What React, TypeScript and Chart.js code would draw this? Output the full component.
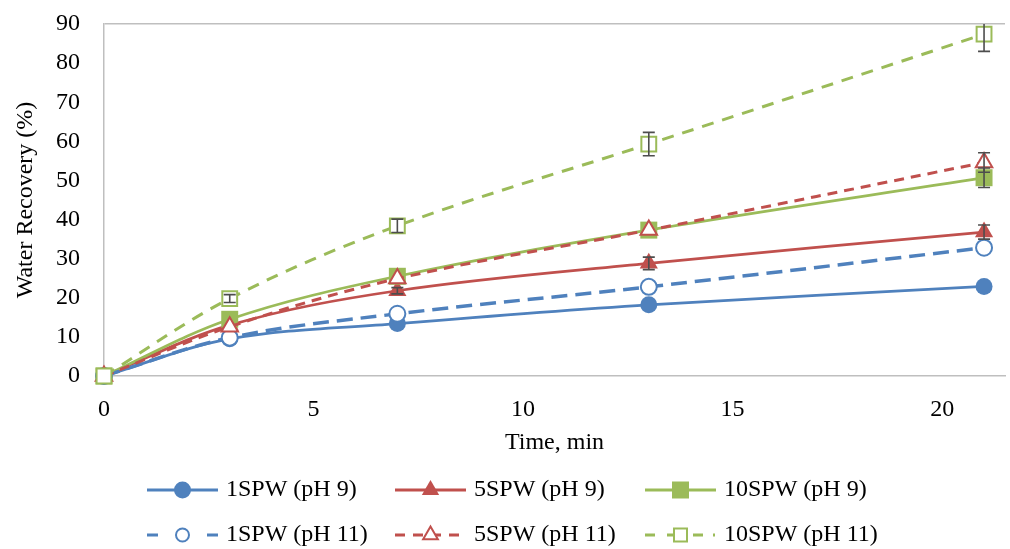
import React, { useEffect, useRef } from 'react';
import { Chart, registerables } from 'chart.js';

Chart.register(...registerables);

// ---- data ----
const timeMin = [0, 3, 7, 13, 21];

const spw1pH9 = [0, 9.5, 13.4, 18.2, 22.9];
const spw5pH9 = [0, 13.0, 21.8, 28.8, 36.8];
const spw10pH9 = [0, 14.5, 25.5, 37.3, 50.7];
const spw1pH11 = [0, 9.8, 15.9, 22.8, 32.8];
const spw5pH11 = [0, 12.6, 24.9, 37.3, 54.6];
const spw10pH11 = [0, 19.8, 38.4, 59.3, 87.4];

const spw1pH9Err = [0, 0, 0, 0, 0];
const spw5pH9Err = [0, 0, 0.8, 1.6, 1.8];
const spw10pH9Err = [0, 0, 0, 0, 2.5];
const spw1pH11Err = [0, 0, 0, 0, 0];
const spw5pH11Err = [0, 0, 0, 0, 2.5];
const spw10pH11Err = [0, 1.0, 1.7, 3.0, 4.4];

const seriesNames = [
  '1SPW (pH 9)',
  '5SPW (pH 9)',
  '10SPW (pH 9)',
  '1SPW (pH 11)',
  '5SPW (pH 11)',
  '10SPW (pH 11)',
];

const xTickLabels = ['0', '5', '10', '15', '20'];
const yTickLabels = ['0', '10', '20', '30', '40', '50', '60', '70', '80', '90'];
const xTitle = 'Time, min';
const yTitle = 'Water Recovery (%)';

// ---- styles ----
const FONT = '"Liberation Serif", "Times New Roman", serif';
const BLUE = '#4f81bd';
const RED = '#c0504d';
const GREEN = '#9bbb59';
const AXIS = '#bfbfbf';
const ERR = '#4d4d4d';

const legendLineStart = [147, 395, 645];
const legendLineLen = 71;
const legendTextOffset = 79;
const legendRowY = [490, 535];

type Marker = 'circle' | 'triangle' | 'rect';

function drawMarker(
  ctx: CanvasRenderingContext2D,
  kind: Marker,
  x: number,
  y: number,
  r: number,
  color: string,
  filled: boolean
) {
  ctx.save();
  ctx.setLineDash([]);
  ctx.beginPath();
  if (kind === 'circle') {
    ctx.arc(x, y, r, 0, Math.PI * 2);
  } else if (kind === 'triangle') {
    const w = r * Math.sqrt(3) / 2;
    ctx.moveTo(x, y - r);
    ctx.lineTo(x + w, y + r / 2);
    ctx.lineTo(x - w, y + r / 2);
    ctx.closePath();
  } else {
    ctx.rect(x - r, y - r, 2 * r, 2 * r);
  }
  ctx.fillStyle = filled ? color : '#ffffff';
  ctx.fill();
  if (!filled) {
    ctx.lineWidth = 2;
    ctx.strokeStyle = color;
    ctx.stroke();
  }
  ctx.restore();
}

export default function App() {
  const ref = useRef<HTMLCanvasElement>(null);

  useEffect(() => {
    if (!ref.current) return;

    const mk = (
      idx: number,
      values: number[],
      errors: number[],
      color: string,
      style: Marker,
      filled: boolean,
      radius: number,
      dash: number[],
      width: number
    ) => ({
      label: seriesNames[idx],
      data: timeMin.map((t, i) => ({ x: t, y: values[i] })),
      errors,
      markerKind: style,
      filledMarker: filled,
      borderColor: color,
      backgroundColor: filled ? color : '#ffffff',
      pointStyle: style,
      pointRadius: radius,
      pointHoverRadius: radius,
      pointBorderColor: color,
      pointBackgroundColor: filled ? color : '#ffffff',
      pointBorderWidth: filled ? 0 : 2,
      borderWidth: width,
      borderDash: dash,
      tension: 0.35,
      fill: false,
      clip: false as any,
      order: 5 - idx,
    });

    const datasets = [
      mk(0, spw1pH9, spw1pH9Err, BLUE, 'circle', true, 8.5, [], 2.75),
      mk(1, spw5pH9, spw5pH9Err, RED, 'triangle', true, 10.5, [], 2.75),
      mk(2, spw10pH9, spw10pH9Err, GREEN, 'rect', true, 12, [], 2.75),
      mk(3, spw1pH11, spw1pH11Err, BLUE, 'circle', false, 8, [16, 8], 3.5),
      mk(4, spw5pH11, spw5pH11Err, RED, 'triangle', false, 9.5, [10, 7], 3),
      mk(5, spw10pH11, spw10pH11Err, GREEN, 'rect', false, 10.5, [12, 9], 3),
    ];

    const errorBarPlugin = {
      id: 'errorBars',
      afterDatasetsDraw(chart: any) {
        const { ctx, chartArea } = chart;
        const yScale = chart.scales.y;
        ctx.save();
        ctx.beginPath();
        ctx.rect(chartArea.left - 20, chartArea.top, chartArea.right - chartArea.left + 40, chartArea.bottom - chartArea.top + 20);
        ctx.clip();
        ctx.strokeStyle = ERR;
        ctx.lineWidth = 1.6;
        ctx.setLineDash([]);
        chart.data.datasets.forEach((ds: any, di: number) => {
          const meta = chart.getDatasetMeta(di);
          ds.data.forEach((p: any, j: number) => {
            const e = ds.errors[j];
            if (!e) return;
            const x = meta.data[j].x;
            const yt = yScale.getPixelForValue(p.y + e);
            const yb = yScale.getPixelForValue(p.y - e);
            ctx.beginPath();
            ctx.moveTo(x, yt);
            ctx.lineTo(x, yb);
            ctx.moveTo(x - 6, yt);
            ctx.lineTo(x + 6, yt);
            ctx.moveTo(x - 6, yb);
            ctx.lineTo(x + 6, yb);
            ctx.stroke();
          });
        });
        ctx.restore();
      },
    };

    const legendDash = [
      [],
      [],
      [],
      [11, 49, 11],
      [10, 8, 10, 8, 10, 8, 10],
      [10, 12, 14, 12, 10, 10, 2],
    ];
    const legendMarkerR = [8.5, 10, 8.5, 6.5, 8.5, 6.5];

    const legendPlugin = {
      id: 'customLegend',
      afterDraw(chart: any) {
        const ctx = chart.ctx as CanvasRenderingContext2D;
        chart.data.datasets.forEach((ds: any, i: number) => {
          const col = i % 3;
          const row = Math.floor(i / 3);
          const x0 = legendLineStart[col];
          const y0 = legendRowY[row];
          ctx.save();
          ctx.strokeStyle = ds.borderColor;
          ctx.lineWidth = 3;
          ctx.setLineDash(legendDash[i]);
          ctx.beginPath();
          ctx.moveTo(x0, y0);
          ctx.lineTo(x0 + legendLineLen, y0);
          ctx.stroke();
          ctx.restore();
          drawMarker(ctx, ds.markerKind, x0 + legendLineLen / 2, y0, legendMarkerR[i], ds.borderColor, ds.filledMarker);
          ctx.save();
          ctx.fillStyle = '#000000';
          ctx.font = `24px ${FONT}`;
          ctx.textAlign = 'left';
          ctx.textBaseline = 'middle';
          ctx.fillText(ds.label, x0 + legendTextOffset, y0);
          ctx.restore();
        });
      },
    };

    const chart = new Chart(ref.current, {
      type: 'line',
      data: { datasets: datasets as any },
      plugins: [errorBarPlugin, legendPlugin],
      options: {
        animation: false,
        responsive: false,
        devicePixelRatio: 1,
        layout: { autoPadding: false, padding: { top: 24, right: 5, bottom: 84, left: 0 } },
        plugins: {
          legend: { display: false },
          tooltip: { enabled: false },
        },
        scales: {
          x: {
            type: 'linear',
            min: 0,
            max: 21.5,
            afterFit: (s: any) => {
              s.height = 89;
              s.paddingLeft = 0;
              s.paddingRight = 0;
            },
            grid: { display: false, drawTicks: false },
            border: { display: true, color: AXIS, width: 1.5 },
            ticks: {
              stepSize: 5,
              includeBounds: false,
              padding: 19,
              color: '#000000',
              font: { family: FONT, size: 24 },
              maxRotation: 0,
              callback: (_v: any, i: number) => xTickLabels[i] ?? '',
            },
            title: {
              display: true,
              text: xTitle,
              color: '#000000',
              font: { family: FONT, size: 24 },
              padding: { top: 0, bottom: 8 },
            },
          },
          y: {
            type: 'linear',
            min: 0,
            max: 90,
            afterFit: (s: any) => {
              s.width = 104;
              s.paddingTop = 0;
              s.paddingBottom = 0;
            },
            grid: {
              display: true,
              drawTicks: false,
              lineWidth: 1.5,
              color: (c: any) => (c.tick && c.tick.value === 90 ? AXIS : 'rgba(0,0,0,0)'),
            },
            border: { display: true, color: AXIS, width: 1.5 },
            ticks: {
              stepSize: 10,
              padding: 24,
              color: '#000000',
              font: { family: FONT, size: 24 },
              callback: (_v: any, i: number) => yTickLabels[i] ?? '',
            },
            title: {
              display: true,
              text: yTitle,
              color: '#000000',
              font: { family: FONT, size: 24 },
              padding: { top: 11, bottom: 0 },
            },
          },
        },
      },
    });

    return () => chart.destroy();
  }, []);

  return (
    <div style={{ position: 'fixed', left: 0, top: 0, width: 1010, height: 549, background: '#ffffff' }}>
      <canvas ref={ref} width={1010} height={549} style={{ display: 'block' }} />
    </div>
  );
}
